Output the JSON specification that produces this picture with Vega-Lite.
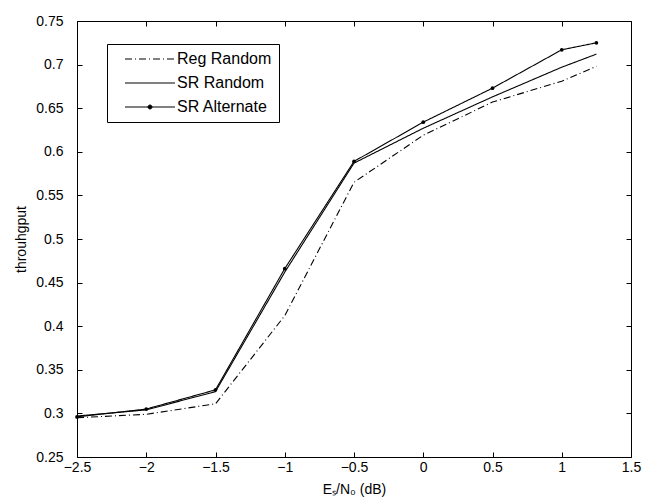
{
  "$schema": "https://vega.github.io/schema/vega-lite/v6.json",
  "autosize": "none",
  "width": 554,
  "height": 436,
  "padding": {"left": 77, "top": 21, "right": 23, "bottom": 47},
  "background": "white",
  "config": {
    "font": "Liberation Sans",
    "view": {"stroke": "black", "strokeWidth": 1},
    "axis": {
      "grid": false,
      "domainColor": "black",
      "tickColor": "black",
      "labelColor": "black",
      "titleColor": "black",
      "labelFont": "Liberation Sans",
      "titleFont": "Liberation Sans",
      "labelFontSize": 14,
      "titleFontSize": 14,
      "titleFontWeight": "normal",
      "tickSize": -5,
      "format": "~g"
    }
  },
  "data": {
    "values": [
      {"x": -2.5, "y": 0.295, "series": "Reg Random"},
      {"x": -2.0, "y": 0.299, "series": "Reg Random"},
      {"x": -1.5, "y": 0.311, "series": "Reg Random"},
      {"x": -1.0, "y": 0.412, "series": "Reg Random"},
      {"x": -0.5, "y": 0.565, "series": "Reg Random"},
      {"x": 0.0, "y": 0.619, "series": "Reg Random"},
      {"x": 0.5, "y": 0.657, "series": "Reg Random"},
      {"x": 1.0, "y": 0.681, "series": "Reg Random"},
      {"x": 1.25, "y": 0.698, "series": "Reg Random"},
      {"x": -2.5, "y": 0.297, "series": "SR Random"},
      {"x": -2.0, "y": 0.304, "series": "SR Random"},
      {"x": -1.5, "y": 0.325, "series": "SR Random"},
      {"x": -1.0, "y": 0.462, "series": "SR Random"},
      {"x": -0.5, "y": 0.587, "series": "SR Random"},
      {"x": 0.0, "y": 0.627, "series": "SR Random"},
      {"x": 0.5, "y": 0.663, "series": "SR Random"},
      {"x": 1.0, "y": 0.697, "series": "SR Random"},
      {"x": 1.25, "y": 0.712, "series": "SR Random"},
      {"x": -2.5, "y": 0.296, "series": "SR Alternate"},
      {"x": -2.0, "y": 0.305, "series": "SR Alternate"},
      {"x": -1.5, "y": 0.327, "series": "SR Alternate"},
      {"x": -1.0, "y": 0.466, "series": "SR Alternate"},
      {"x": -0.5, "y": 0.589, "series": "SR Alternate"},
      {"x": 0.0, "y": 0.634, "series": "SR Alternate"},
      {"x": 0.5, "y": 0.673, "series": "SR Alternate"},
      {"x": 1.0, "y": 0.717, "series": "SR Alternate"},
      {"x": 1.25, "y": 0.725, "series": "SR Alternate"}
    ]
  },
  "layer": [
    {
      "mark": {"type": "line", "color": "black", "strokeWidth": 1.1},
      "encoding": {
        "x": {
          "field": "x", "type": "quantitative",
          "scale": {"domain": [-2.5, 1.5], "nice": false, "zero": false},
          "axis": {"orient": "bottom", "values": [-2.5, -2, -1.5, -1, -0.5, 0, 0.5, 1, 1.5], "labelPadding": 8, "title": "Eₛ/N₀ (dB)", "titlePadding": 8, "labelFlush": false}
        },
        "y": {
          "field": "y", "type": "quantitative",
          "scale": {"domain": [0.25, 0.75], "nice": false, "zero": false},
          "axis": {"orient": "left", "values": [0.25, 0.3, 0.35, 0.4, 0.45, 0.5, 0.55, 0.6, 0.65, 0.7, 0.75], "labelPadding": 19, "title": "throuhgput", "titlePadding": 7, "labelFlush": false}
        },
        "detail": {"field": "series"},
        "strokeDash": {
          "field": "series", "type": "nominal",
          "scale": {"domain": ["Reg Random", "SR Random", "SR Alternate"], "range": [[7, 3, 1, 3], [1, 0], [1, 0]]},
          "legend": {
            "title": null,
            "orient": "none",
            "legendX": 30,
            "legendY": 23,
            "strokeColor": "black",
            "fillColor": "white",
            "padding": 7,
            "labelFontSize": 16,
            "labelFont": "Liberation Sans",
            "labelColor": "black",
            "labelOffset": 44,
            "symbolSize": 100,
            "symbolOffset": 3,
            "symbolStrokeColor": "black",
            "symbolStrokeWidth": 1,
            "rowPadding": 8,
            "encode": {
              "symbols": {
                "update": {
                  "shape": {"signal": "datum.value === 'SR Alternate' ? 'M0,0H10M4.6,0A0.4,0.4 0 1,0 5.4,0A0.4,0.4 0 1,0 4.6,0' : 'M0,0H10'"},
                  "fill": {"value": "black"},
                  "fillOpacity": {"value": 1},
                  "stroke": {"value": "black"}
                }
              }
            }
          }
        }
      }
    },
    {
      "transform": [{"filter": "datum.series === 'SR Alternate'"}],
      "mark": {"type": "point", "filled": true, "color": "black", "size": 14, "opacity": 1},
      "encoding": {
        "x": {
          "field": "x", "type": "quantitative",
          "axis": {"orient": "top", "values": [-2.5, -2, -1.5, -1, -0.5, 0, 0.5, 1, 1.5], "labels": false, "title": null, "domain": false}
        },
        "y": {
          "field": "y", "type": "quantitative",
          "axis": {"orient": "right", "values": [0.25, 0.3, 0.35, 0.4, 0.45, 0.5, 0.55, 0.6, 0.65, 0.7, 0.75], "labels": false, "title": null, "domain": false}
        }
      }
    }
  ],
  "resolve": {"axis": {"x": "independent", "y": "independent"}}
}
